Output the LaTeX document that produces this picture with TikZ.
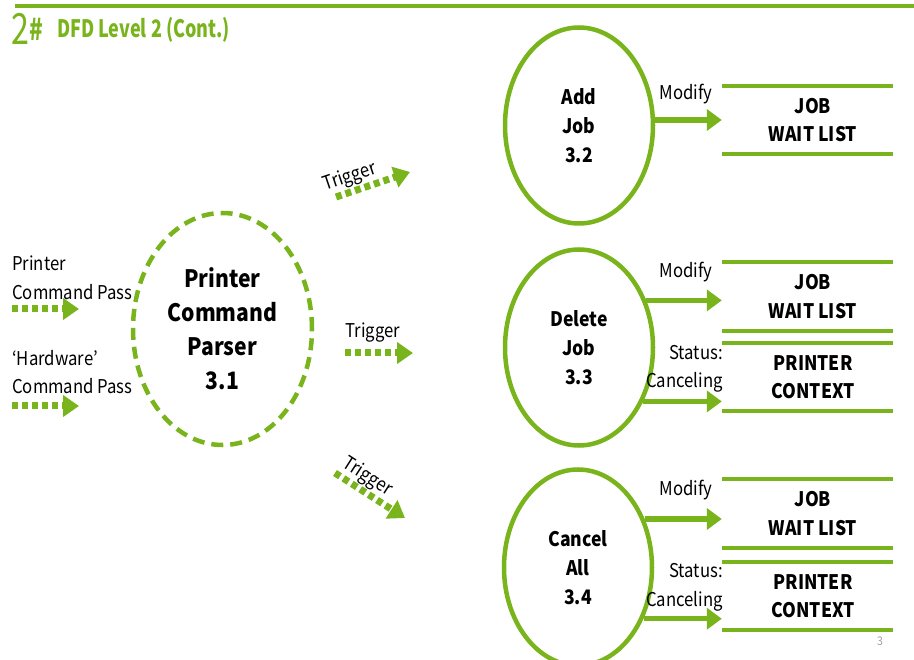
\documentclass[tikz,border=0pt]{standalone}
\usepackage{fontspec}
\setmainfont[FakeStretch=0.88]{Noto Sans CJK KR}
\newfontfamily\titlefont[FakeStretch=0.75]{Noto Sans CJK KR}
\usetikzlibrary{shapes.geometric,arrows.meta}
\definecolor{dfdgreen}{RGB}{122,180,28}
\definecolor{pagegray}{RGB}{160,160,160}
\tikzset{
  proc/.style={ellipse, draw=dfdgreen, line width=4.5pt, inner sep=0pt, align=center,
    minimum width=148pt, minimum height=196pt,
    font=\fontsize{20}{29}\selectfont\bfseries},
  store/.style={inner sep=0pt, minimum width=171pt, minimum height=68pt, align=center,
    font=\fontsize{20}{28.5}\selectfont\bfseries},
  storeline/.style={draw=dfdgreen, line width=4pt},
  flow/.style={draw=dfdgreen, line width=5.5pt, -{Triangle[length=15pt,width=21pt]}, color=dfdgreen},
  dotflow/.style={draw=dfdgreen, line width=7pt, dash pattern=on 6pt off 4pt,
    -{Triangle[length=16pt,width=21pt]}, color=dfdgreen},
  lbl/.style={inner sep=0pt, font=\fontsize{19}{28.5}\selectfont, align=left},
}
\begin{document}
\begin{tikzpicture}[x=1pt,y=-1pt]
\useasboundingbox (0,0) rectangle (914,660);
\clip (0,0) rectangle (914,660);
% header
\coordinate (hl) at (15,6);
\coordinate (hr) at (914,6);
\draw[draw=dfdgreen, line width=4pt] (hl) -- (hr);
\node[anchor=base west, inner sep=0pt, text=dfdgreen] (num) at (11,45)
  {\titlefont{\fontsize{43}{43}\selectfont 2}\raisebox{4pt}{\fontsize{30}{30}\selectfont\bfseries\#}};
\node[anchor=base west, inner sep=0pt, text=dfdgreen] (title) at (57,37.5)
  {\titlefont\fontsize{24}{24}\selectfont\bfseries DFD Level 2 (Cont.)};

% main process
\node[proc, dashed, dash pattern=on 12pt off 7pt, minimum width=179pt, minimum height=232pt,
  font=\fontsize{24}{34}\selectfont\bfseries] (c31) at (222.5,329) {Printer\\Command\\Parser\\3.1};

% sub processes
\node[proc] (c32) at (579,125.5) {Add\\Job\\3.2};
\node[proc] (c33) at (579,347.5) {Delete\\Job\\3.3};
\node[proc] (c34) at (578,567.5) {Cancel\\All\\3.4};

% data stores (text sits slightly right of the lines' centre)
\node[store] (s1) at (813,120) {JOB\\WAIT LIST};
\node[store] (s2) at (813,296.5) {JOB\\WAIT LIST};
\node[store] (s3) at (813,377) {PRINTER\\CONTEXT};
\node[store] (s4) at (813,513.5) {JOB\\WAIT LIST};
\node[store] (s5) at (813,596) {PRINTER\\CONTEXT};
\foreach \s in {s1,s2,s3,s4,s5}{
  \draw[storeline] ([xshift=-5.5pt]\s.north west) -- ([xshift=-5.5pt]\s.north east);
  \draw[storeline] ([xshift=-5.5pt]\s.south west) -- ([xshift=-5.5pt]\s.south east);
}

% input flows
\node[lbl, anchor=west] (in1) at (12,278) {Printer\\Command Pass};
\coordinate (in1a) at (12,309);
\coordinate (in1b) at (79,309);
\draw[dotflow] (in1a) -- (in1b);
\node[lbl, anchor=west] (in2) at (12,372) {`Hardware'\\Command Pass};
\coordinate (in2a) at (12,406);
\coordinate (in2b) at (79,406);
\draw[dotflow] (in2a) -- (in2b);

% trigger flows
\coordinate (t1a) at (336,197);
\coordinate (t1b) at (410,172);
\draw[dotflow] (t1a) -- (t1b) node[pos=0.25, above=1pt, sloped, lbl, text=black] (t1l) {Trigger};
\coordinate (t2a) at (345,353);
\coordinate (t2b) at (413,353);
\draw[dotflow] (t2a) -- (t2b);
\node[lbl] (t2l) at (373,333) {Trigger};
\coordinate (t3a) at (335,473);
\coordinate (t3b) at (405,518);
\draw[dotflow] (t3a) -- (t3b) node[pos=0.35, above=1pt, sloped, lbl, text=black] (t3l) {Trigger};

% output flows
\coordinate (s1w) at ([xshift=-5.5pt]s1.west);
\coordinate (s2w) at ([xshift=-5.5pt]s2.west);
\coordinate (s3w) at ([xshift=-5.5pt]s3.west);
\coordinate (s4w) at ([xshift=-5.5pt]s4.west);
\coordinate (s5w) at ([xshift=-5.5pt]s5.west);
\draw[flow] (c32.east |- s1w) -- (s1w);
\node[lbl] (m1) at (686,94) {Modify};

\draw[flow] (c33.35.6) -- (c33.35.6 -| s2w);
\node[lbl] (m2) at (686,272) {Modify};
\draw[flow] (c33.-40.8) -- (c33.-40.8 -| s3w);
\node[lbl, anchor=east, align=right] (st1) at (723,369) {Status:\\Canceling};

\draw[flow] (c34.36.3) -- (c34.36.3 -| s4w);
\node[lbl] (m3) at (686,490) {Modify};
\draw[flow] (c34.-38.6) -- (c34.-38.6 -| s5w);
\node[lbl, anchor=east, align=right] (st2) at (723,587.5) {Status:\\Canceling};

\node[inner sep=0pt, text=pagegray, font=\fontsize{12}{12}\selectfont] (pg) at (880,641) {3};
\end{tikzpicture}
\end{document}
